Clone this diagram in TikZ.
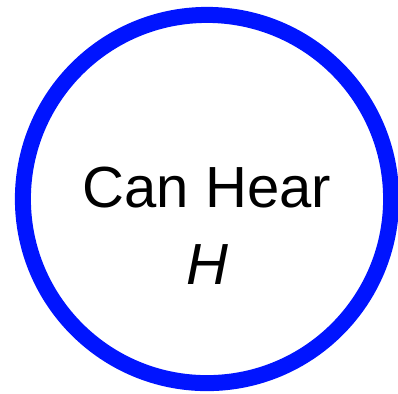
\documentclass[tikz,border=0pt]{standalone}
\usepackage{fontspec}
\setmainfont{Liberation Sans}
\definecolor{nodeblue}{RGB}{0,20,255}

\begin{document}
\begin{tikzpicture}[x=0.01cm, y=-0.01cm,
  varnode/.style={circle, draw=nodeblue, line width=4.55pt, minimum size=3.68cm, inner sep=0pt},
  varlabel/.style={align=center, font=\fontsize{16.5}{21.9}\selectfont}]
  \useasboundingbox (0,0) rectangle (398,393);
  % the variable node
  \node[varnode] (hear) at (207,199) {};
  \node[varlabel] (hearlabel) at ([yshift=-0.27cm]hear.center) {Can Hear\\\textit{H}};
\end{tikzpicture}
\end{document}
